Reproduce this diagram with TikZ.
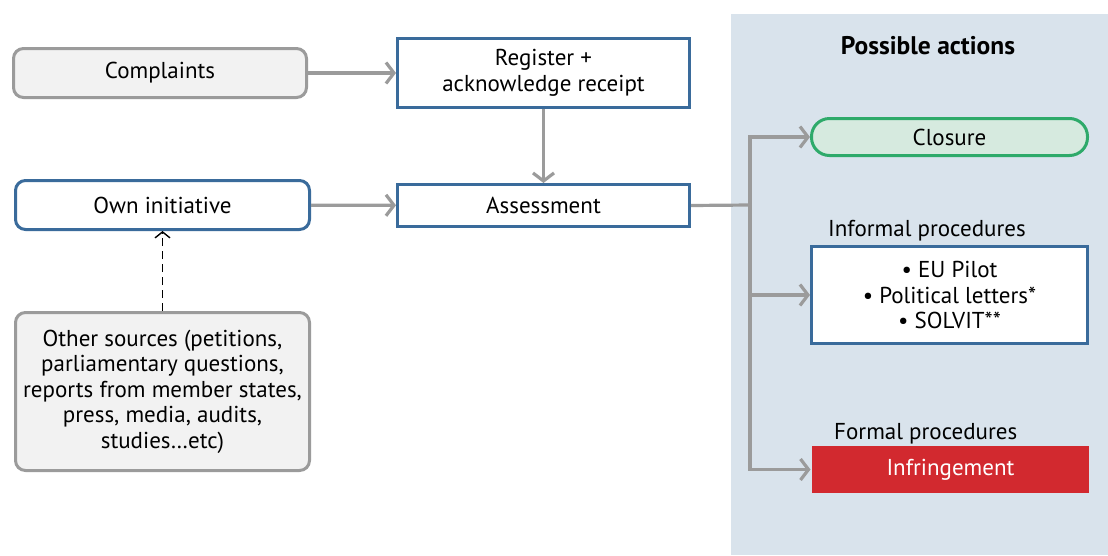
\documentclass[tikz,border=0pt]{standalone}
\usepackage{fontspec}
\setmainfont{PT Sans}
\usetikzlibrary{arrows.meta}
\definecolor{bluebd}{HTML}{3A6B9B}
\definecolor{graybd}{HTML}{9B9B9B}
\definecolor{grayfill}{HTML}{F2F2F2}
\definecolor{panel}{HTML}{D9E3EC}
\definecolor{greenbd}{HTML}{2EAA6A}
\definecolor{greenfill}{HTML}{D6EADF}
\definecolor{redfill}{HTML}{D2292F}
\tikzset{
  box/.style={line width=3pt, inner sep=0pt, align=center, font=\fontsize{23}{25.5}\selectfont},
  graybox/.style={box, draw=graybd, fill=grayfill, rounded corners=10pt},
  bluerounded/.style={box, draw=bluebd, fill=white, rounded corners=10pt},
  bluebox/.style={box, draw=bluebd, fill=white},
  flow/.style={draw=graybd, line width=3.2pt, -{Straight Barb[length=8pt,width=21pt,line width=3.2pt]}},
  lbl/.style={inner sep=0pt, font=\fontsize{23}{25.5}\selectfont, anchor=base west}
}
\begin{document}
\begin{tikzpicture}[x=1pt,y=-1pt]
\useasboundingbox (0,0) rectangle (1108,555);
\fill[panel] (731,14) rectangle (1108,555);
\node[graybox, minimum width=293pt, minimum height=49pt] (compl) at (160,73) {Complaints};
\node[bluebox, minimum width=292pt, minimum height=69pt] (reg) at (543.5,73) {Register +\\acknowledge receipt};
\node[bluerounded, minimum width=294pt, minimum height=49pt] (own) at (162.5,205) {Own initiative};
\node[bluebox, minimum width=292pt, minimum height=42pt] (assess) at (543.5,205.5) {Assessment};
\node[graybox, minimum width=294pt, minimum height=158pt] (other) at (162.5,391.5) {Other sources (petitions,\\parliamentary questions,\\reports from member states,\\press, media, audits,\\studies\ldots etc)};
\node[inner sep=0pt, font=\bfseries\fontsize{25.5}{28}\selectfont, anchor=base] (poss) at (928,54) {Possible actions};
\node[box, draw=greenbd, fill=greenfill, rounded corners=18pt, minimum width=276pt, minimum height=37pt] (clos) at (949.5,137) {Closure};
\node[lbl] (inflbl) at (828,236) {Informal procedures};
\node[bluebox, minimum width=276pt, minimum height=97pt] (inf) at (949.5,295) {\textbullet\ EU Pilot\\\textbullet\ Political letters*\\\textbullet\ SOLVIT**};
\node[lbl] (forlbl) at (834,439) {Formal procedures};
\node[box, fill=redfill, text=white, minimum width=277pt, minimum height=47pt] (infr) at (950.5,469.5) {Infringement};
\coordinate (jn) at (750,205);
\draw[flow] (compl) -- (reg);
\draw[flow] (own) -- (assess);
\draw[flow] (reg) -- (assess);
\draw[draw=graybd, line width=3.2pt] (assess.east) -- (jn);
\draw[flow] (jn) |- (clos.west);
\draw[flow] (jn) |- (inf.west);
\draw[flow] (jn) |- (infr.west);
\draw[black, line width=1.4pt, dash pattern=on 8pt off 5pt, -{Straight Barb[length=6pt,width=15pt,line width=1.4pt]}] (other.north) -- (own.south);
\end{tikzpicture}
\end{document}
